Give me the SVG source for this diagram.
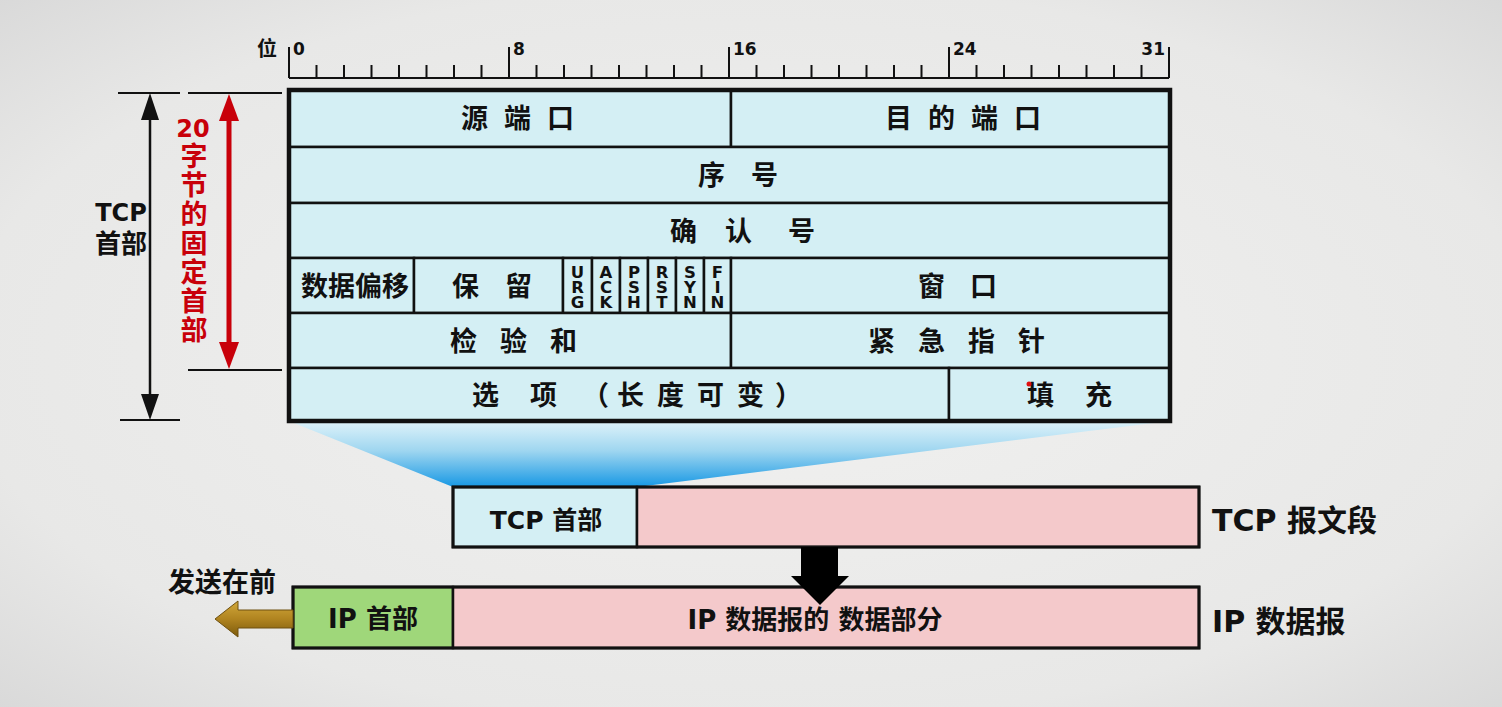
<svg xmlns="http://www.w3.org/2000/svg" width="1502" height="707" viewBox="0 0 1502 707">
<defs>
<radialGradient id="bg" cx="50%" cy="50%" r="75%">
<stop offset="0" stop-color="#f1f1f0"/>
<stop offset="0.7" stop-color="#e8e8e7"/>
<stop offset="1" stop-color="#d6d6d6"/>
</radialGradient>
<linearGradient id="zoomGrad" x1="0" y1="421" x2="0" y2="487" gradientUnits="userSpaceOnUse">
<stop offset="0" stop-color="#dff3fa"/>
<stop offset="0.45" stop-color="#9fd6f0"/>
<stop offset="1" stop-color="#1798e4"/>
</linearGradient>
<linearGradient id="gold" x1="0" y1="0" x2="0" y2="1">
<stop offset="0" stop-color="#d2a83a"/>
<stop offset="0.5" stop-color="#b08420"/>
<stop offset="1" stop-color="#7c5a0c"/>
</linearGradient>
<style>
.cell{fill:#d4eff4;stroke:#111;stroke-width:2.5}
.pink{fill:#f4c9cb;stroke:#111;stroke-width:2.5}
.green{fill:#9fd77a;stroke:#111;stroke-width:2.5}
.t{font-family:"DejaVu Sans","Noto Sans CJK SC",sans-serif;font-weight:bold;fill:#111}
.cjk{font-family:"Noto Sans CJK SC",sans-serif;font-weight:bold;fill:#111;font-size:27px}
.flag{font-family:"DejaVu Sans",sans-serif;font-weight:bold;fill:#111;font-size:16.5px;letter-spacing:-4px;text-anchor:middle;writing-mode:vertical-rl;text-orientation:upright}
.red{font-family:"DejaVu Sans","Noto Sans CJK SC",sans-serif;font-weight:bold;fill:#c8000a;text-anchor:middle}
.thin{stroke:#111;stroke-width:2;fill:none}
</style>
</defs>
<rect width="1502" height="707" fill="url(#bg)"/>

<g id="zoom-projection">
<polygon points="289,421 1170,421 637,487 453,487" fill="url(#zoomGrad)"/>
</g>

<g id="ruler">
<path class="thin" d="M289,78H1169 M289,47V78 M509,47V78 M729,47V78 M949,47V78 M1169,47V78 M316.5,65V78 M344,65V78 M371.5,65V78 M399,65V78 M426.5,65V78 M454,65V78 M481.5,65V78 M536.5,65V78 M564,65V78 M591.5,65V78 M619,65V78 M646.5,65V78 M674,65V78 M701.5,65V78 M756.5,65V78 M784,65V78 M811.5,65V78 M839,65V78 M866.5,65V78 M894,65V78 M921.5,65V78 M976.5,65V78 M1004,65V78 M1031.5,65V78 M1059,65V78 M1086.5,65V78 M1114,65V78 M1141.5,65V78"/>
<text class="cjk" x="257" y="56" style="font-size:20px">位</text>
<text class="t" x="293" y="55" font-size="17">0</text>
<text class="t" x="513" y="55" font-size="17">8</text>
<text class="t" x="733" y="55" font-size="17">16</text>
<text class="t" x="953" y="55" font-size="17">24</text>
<text class="t" x="1165" y="55" font-size="17" text-anchor="end">31</text>
</g>

<g id="tcp-header-table">
<g id="row1">
<rect class="cell" x="289" y="90" width="442" height="57"/>
<text class="cjk" x="461 504 547" y="128">源端口</text>
<rect class="cell" x="731" y="90" width="439" height="57"/>
<text class="cjk" x="885 928 971 1014" y="128">目的端口</text>
</g>
<g id="row2">
<rect class="cell" x="289" y="147" width="881" height="56"/>
<text class="cjk" x="698 751" y="185">序号</text>
</g>
<g id="row3">
<rect class="cell" x="289" y="203" width="881" height="55"/>
<text class="cjk" x="670 725 788" y="241">确认号</text>
</g>
<g id="row4">
<rect class="cell" x="289" y="258" width="125" height="55"/>
<text class="cjk" x="301" y="296">数据偏移</text>
<rect class="cell" x="414" y="258" width="149" height="55"/>
<text class="cjk" x="452 505" y="296">保留</text>
<rect class="cell" x="563" y="258" width="29" height="55"/>
<rect class="cell" x="592" y="258" width="28" height="55"/>
<rect class="cell" x="620" y="258" width="28" height="55"/>
<rect class="cell" x="648" y="258" width="28" height="55"/>
<rect class="cell" x="676" y="258" width="28" height="55"/>
<rect class="cell" x="704" y="258" width="27" height="55"/>
<text class="flag" x="577.5" y="285.5">URG</text>
<text class="flag" x="606" y="285.5">ACK</text>
<text class="flag" x="634" y="285.5">PSH</text>
<text class="flag" x="662" y="285.5">RST</text>
<text class="flag" x="690" y="285.5">SYN</text>
<text class="flag" x="717.5" y="285.5">FIN</text>
<rect class="cell" x="731" y="258" width="439" height="55"/>
<text class="cjk" x="918 970" y="296">窗口</text>
</g>
<g id="row5">
<rect class="cell" x="289" y="313" width="442" height="55"/>
<text class="cjk" x="450 500 550" y="351">检验和</text>
<rect class="cell" x="731" y="313" width="439" height="55"/>
<text class="cjk" x="868 918 968 1018" y="351">紧急指针</text>
</g>
<g id="row6">
<rect class="cell" x="289" y="368" width="660" height="53"/>
<text class="cjk" x="472 530 582 617 657 697 737 775" y="405">选项（长度可变）</text>
<rect class="cell" x="949" y="368" width="221" height="53"/>
<text class="cjk" x="1027 1085" y="405">填充</text>
<circle cx="1029" cy="384" r="2.5" fill="#e01010"/>
</g>
<rect x="289" y="90" width="881" height="331" fill="none" stroke="#111" stroke-width="4.5"/>
</g>

<g id="annot-tcp-header">
<text class="t" text-anchor="middle"><tspan x="121" y="221" font-size="24">TCP</tspan><tspan x="121" y="253" font-size="26">首部</tspan></text>
</g>
<g id="annot-fixed-header">
<text class="red" x="193" y="137" font-size="24">20</text>
<text class="red" font-size="27"><tspan x="194" y="166">字</tspan><tspan x="194" y="195">节</tspan><tspan x="194" y="224">的</tspan><tspan x="194" y="253">固</tspan><tspan x="194" y="282">定</tspan><tspan x="194" y="311">首</tspan><tspan x="194" y="340">部</tspan></text>
</g>

<g id="tcp-segment">
<rect class="cell" x="453" y="487" width="184" height="60"/>
<rect class="pink" x="637" y="487" width="562" height="60"/>
<rect x="453" y="487" width="746" height="60" fill="none" stroke="#111" stroke-width="3"/>
<text class="t" x="546" y="529" font-size="25" text-anchor="middle">TCP 首部</text>
<text class="t" x="1212" y="531" font-size="30">TCP 报文段</text>
</g>

<g id="ip-datagram">
<rect class="green" x="293" y="587" width="160" height="61"/>
<rect class="pink" x="453" y="587" width="746" height="61"/>
<rect x="293" y="587" width="906" height="61" fill="none" stroke="#111" stroke-width="3"/>
<text class="t" x="373" y="628" font-size="26" text-anchor="middle">IP 首部</text>
<text class="t" x="815" y="629" font-size="26" text-anchor="middle">IP 数据报的 数据部分</text>
<text class="t" x="1212" y="632" font-size="30">IP 数据报</text>
</g>

<g id="send-first">
<text class="cjk" x="168" y="592">发送在前</text>
</g>

<g id="connectors">
<path class="thin" d="M118,93H180 M120,420H180 M188,93H282 M188,370H282"/>
<line x1="150" y1="115" x2="150" y2="398" stroke="#111" stroke-width="2.5"/>
<polygon points="150,93 141,120 159,120" fill="#111"/>
<polygon points="150,420 141,394 159,394" fill="#111"/>
<line x1="229" y1="115" x2="229" y2="348" stroke="#c8000a" stroke-width="5"/>
<polygon points="229,94 219,121 239,121" fill="#c8000a"/>
<polygon points="229,369 219,342 239,342" fill="#c8000a"/>
<polygon points="801,547 838,547 838,576 849,576 820,605 791,576 801,576" fill="#000"/>
<polygon points="293,610 238,610 238,601 215,619 238,637 238,628 293,628" fill="url(#gold)" stroke="#6e5010" stroke-width="1"/>
</g>
</svg>
